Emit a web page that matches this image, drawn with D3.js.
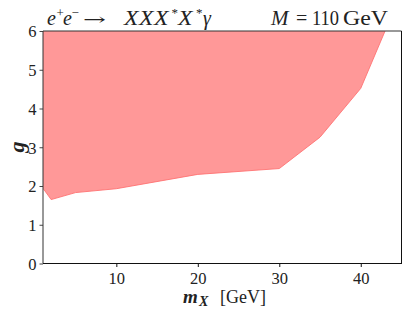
<!DOCTYPE html>
<html><head><meta charset="utf-8">
<script src="https://cdn.jsdelivr.net/npm/d3@7"></script>
<style>
body{margin:0;background:#fff;}
svg text{font-family:"Liberation Serif","DejaVu Serif",serif;fill:#222;}
</style></head>
<body><svg id="c" width="413" height="317"></svg>
<script>
const massX = [1, 2, 5, 10, 20, 30, 35, 40, 45];
const gLimit = [1.94, 1.65, 1.83, 1.93, 2.30, 2.45, 3.26, 4.52, 7.0];
const xTicks = [10, 20, 30, 40];
const yTicks = [0, 1, 2, 3, 4, 5, 6];
const gTop = 10;

const svg = d3.select("#c");
const L = 43, R = 401.5, T = 31, B = 263.5;
const x = d3.scaleLinear().domain([1, 45]).range([L, R]);
const y = d3.scaleLinear().domain([0, 6]).range([B, T]);

svg.append("clipPath").attr("id","clip").append("rect")
  .attr("x",L).attr("y",T).attr("width",R-L).attr("height",B-T);

const pts = massX.map((m,i)=>({m, g:gLimit[i]}));
const area = d3.area().x(d=>x(d.m)).y0(d=>y(d.g)).y1(()=>y(gTop));
svg.append("path").datum(pts).attr("clip-path","url(#clip)")
  .attr("d", area).attr("fill","#ff9898").attr("stroke","none");
svg.append("path").datum(pts).attr("clip-path","url(#clip)")
  .attr("d", d3.line().x(d=>x(d.m)).y(d=>y(d.g)))
  .attr("fill","none").attr("stroke","#ff7373").attr("stroke-width",0.9);

// axes
const xa = svg.append("g").attr("transform",`translate(0,${B})`)
  .call(d3.axisBottom(x).tickValues(xTicks).tickSize(3.5).tickPadding(5).tickFormat(d3.format("d")));
const ya = svg.append("g").attr("transform",`translate(${L},0)`)
  .call(d3.axisLeft(y).tickValues(yTicks).tickSize(3.5).tickPadding(3).tickFormat(d3.format("d")));
[xa,ya].forEach(a=>{
  a.select(".domain").remove();
  a.selectAll("text").attr("font-size",16.5).attr("fill","#222")
    .style("font-family",'"Liberation Serif","DejaVu Serif",serif');
});
xa.selectAll(".tick line").attr("stroke","#111");
ya.selectAll(".tick line").attr("stroke","#444");
ya.selectAll("text").attr("dy","0.35em");

// spines
svg.append("line").attr("x1",L).attr("x2",L).attr("y1",T).attr("y2",B).attr("stroke","#333").attr("stroke-width",1);
svg.append("line").attr("x1",L).attr("x2",R).attr("y1",T).attr("y2",T).attr("stroke","#333").attr("stroke-width",1);
svg.append("line").attr("x1",R).attr("x2",R).attr("y1",T).attr("y2",B+0.5).attr("stroke","#111").attr("stroke-width",1);
svg.append("line").attr("x1",L).attr("x2",R+0.5).attr("y1",B).attr("y2",B).attr("stroke","#111").attr("stroke-width",1);

// title (left)
const base = 25;
const t1 = svg.append("text").attr("y",base).attr("font-size",20);
const piece = (txt, px, opts={}) => {
  const s = t1.append("tspan").attr("x",px).attr("y", opts.sup ? base-8 : base).text(txt);
  if (opts.it) s.attr("font-style","italic");
  if (opts.sup) s.attr("font-size",13);
  if (opts.fs) s.attr("font-size",opts.fs);
  if (opts.len) s.attr("textLength",opts.len).attr("lengthAdjust","spacingAndGlyphs");
  return s;
};
piece("e", 47, {it:true});
piece("+", 56.5, {sup:true});
piece("e", 63, {it:true});
piece("−", 71.5, {sup:true});
piece("→", 83, {len:23}).style("font-family",'"DejaVu Serif",serif').attr("font-size",16);
piece("X", 124, {it:true, fs:20, len:14.5});
piece("X", 139, {it:true, fs:20, len:14.5});
piece("X", 154, {it:true, fs:20, len:14.5});
piece("*", 171.5, {sup:true});
piece("X", 178, {it:true, fs:20, len:14.5});
piece("*", 196, {sup:true});
piece("γ", 203, {it:true});

// title (right)
const t2 = svg.append("text").attr("y",base).attr("font-size",20);
t2.append("tspan").attr("x",271).attr("font-style","italic").attr("font-size",21).text("M");
t2.append("tspan").attr("x",296).text("=");
t2.append("tspan").attr("x",312).attr("textLength",27).attr("lengthAdjust","spacingAndGlyphs").text("110");
t2.append("tspan").attr("x",343).attr("textLength",45).attr("lengthAdjust","spacingAndGlyphs").text("GeV");

// axis labels
const xl = svg.append("text").attr("y",303).attr("font-size",19);
xl.append("tspan").attr("x",183).attr("font-style","italic").attr("font-weight","bold").text("m");
xl.append("tspan").attr("x",199).attr("y",306).attr("font-style","italic").attr("font-weight","bold").attr("font-size",14).text("X");
xl.append("tspan").attr("x",220).attr("y",303).attr("font-size",18).text("[GeV]");

svg.append("text").attr("transform","translate(24,147) rotate(-90)")
  .attr("font-size",22).attr("font-style","italic").attr("font-weight","bold")
  .attr("text-anchor","middle").text("g");
</script></body></html>
